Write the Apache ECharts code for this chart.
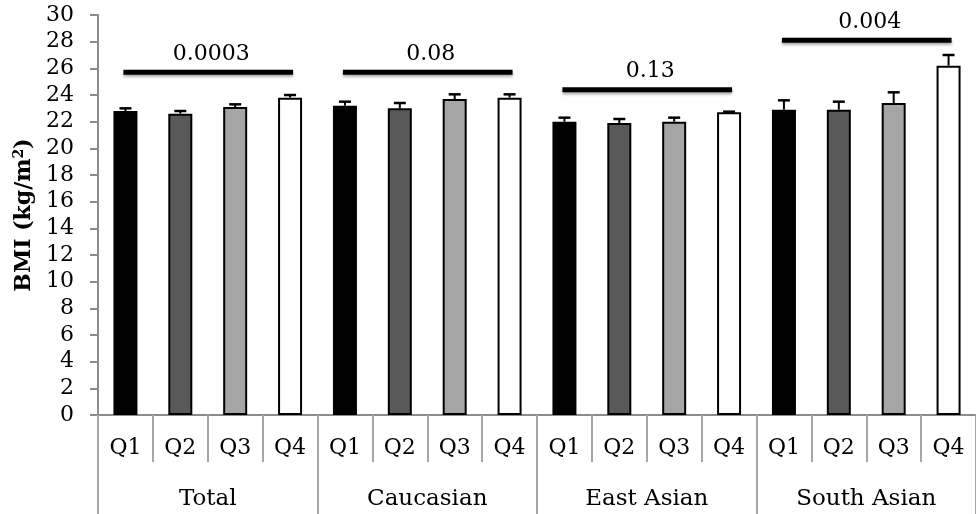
<!DOCTYPE html>
<html>
<head>
<meta charset="utf-8">
<script src="https://cdn.jsdelivr.net/npm/echarts@6/dist/echarts.min.js"></script>
<style>html,body{margin:0;padding:0;background:#fff;}#c{width:976px;height:514px;}</style>
</head>
<body>
<div id="c"></div>
<script>
var quartiles = ['Q1','Q2','Q3','Q4'];
var groups = ['Total','Caucasian','East Asian','South Asian'];
var bmiMeans = [22.8,22.6,23.1,23.8, 23.2,23.0,23.7,23.8, 22.0,21.9,22.0,22.7, 22.9,22.9,23.4,26.2];
var bmiErrors = [0.2,0.2,0.2,0.2, 0.3,0.4,0.35,0.25, 0.3,0.3,0.3,0.05, 0.7,0.6,0.8,0.8];
var pValues = ['0.0003','0.08','0.13','0.004'];
var pLineLevels = [25.7,25.7,24.4,28.1];
var pStart = [0,4,8,12];
var pEnd = [3,7,11,15];
var yTicks = {min:0, max:30, interval:2};

var categories = [];
groups.forEach(function(){ quartiles.forEach(function(q){ categories.push(q); }); });
var barColors = ['#000000','#595959','#a5a5a5','#ffffff'];
var FONT = 'DejaVu Serif';

var chart = echarts.init(document.getElementById('c'));
chart.setOption({
  animation:false,
  backgroundColor:'#fff',
  grid:{left:98, right:-10, top:15, bottom:99},
  xAxis:[{
    type:'category', data:categories, boundaryGap:true,
    axisLine:{lineStyle:{color:'#8c8c8c', width:2}},
    axisTick:{show:true, interval:0, length:47, lineStyle:{color:'#a6a6a6', width:2}},
    axisLabel:{interval:0, margin:22, color:'#000', fontFamily:FONT, fontSize:22}
  },{
    type:'category', data:groups, position:'bottom', boundaryGap:true,
    axisLine:{show:false},
    axisTick:{show:true, interval:0, length:100, lineStyle:{color:'#a6a6a6', width:2}},
    axisLabel:{interval:0, margin:73, color:'#000', fontFamily:FONT, fontSize:23}
  }],
  yAxis:{
    type:'value', min:yTicks.min, max:yTicks.max, interval:yTicks.interval,
    splitLine:{show:false},
    axisLine:{show:true, lineStyle:{color:'#8c8c8c', width:2}},
    axisTick:{show:true, length:8, lineStyle:{color:'#8c8c8c', width:2}},
    axisLabel:{margin:24, color:'#000', fontFamily:FONT, fontSize:22},
    name:'BMI (kg/m{sup|2})', nameLocation:'middle', nameGap:62,
    nameTextStyle:{color:'#000', fontFamily:FONT, fontSize:22, fontWeight:'bold',
      rich:{sup:{fontFamily:FONT, fontSize:14, fontWeight:'bold', verticalAlign:'top', padding:[0,0,10,0]}}}
  },
  series:[{
    type:'bar', xAxisIndex:0, data:bmiMeans, barWidth:24,
    itemStyle:{borderColor:'#000', borderWidth:2, color:function(p){return barColors[p.dataIndex%4];}}
  },{
    type:'custom', xAxisIndex:0, z:5,
    data:bmiMeans.map(function(m,i){return [i, m, m+bmiErrors[i]];}),
    renderItem:function(params, api){
      var b = api.coord([api.value(0), api.value(1)]);
      var t = api.coord([api.value(0), api.value(2)]);
      var hw = 6;
      return {type:'group', children:[
        {type:'line', shape:{x1:b[0], y1:b[1], x2:t[0], y2:t[1]}, style:{stroke:'#000', lineWidth:2}},
        {type:'line', shape:{x1:t[0]-hw, y1:t[1], x2:t[0]+hw, y2:t[1]}, style:{stroke:'#000', lineWidth:2.5}}
      ]};
    }
  },{
    type:'custom', xAxisIndex:0, z:6,
    data:pValues.map(function(p,i){return [pStart[i], pEnd[i], pLineLevels[i], i];}),
    renderItem:function(params, api){
      var a = api.coord([api.value(0), api.value(2)]);
      var b = api.coord([api.value(1), api.value(2)]);
      var x1 = a[0]-2, x2 = b[0]+3;
      return {type:'group', children:[
        {type:'line', shape:{x1:x1, y1:a[1], x2:x2, y2:b[1]},
          style:{stroke:'#000', lineWidth:5, shadowBlur:3, shadowColor:'rgba(0,0,0,0.35)', shadowOffsetY:2}},
        {type:'text', style:{text:pValues[api.value(3)], x:(x1+x2)/2+3, y:a[1]-18,
          textAlign:'center', textVerticalAlign:'middle', fill:'#000', font:'22px "DejaVu Serif"'}}
      ]};
    }
  }]
});
</script>
</body>
</html>
